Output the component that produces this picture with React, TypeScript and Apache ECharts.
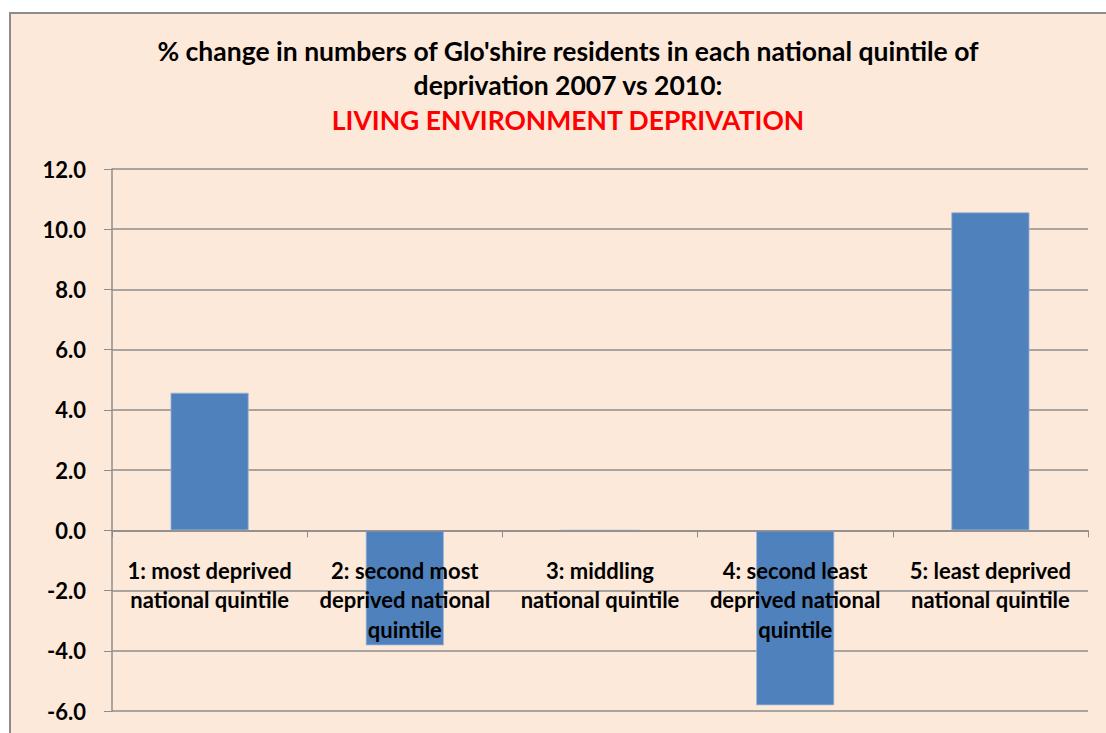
import React, { useEffect, useRef } from "react";
import * as echarts from "echarts";

const categories = [
  "1: most deprived\nnational quintile",
  "2: second most\ndeprived national\nquintile",
  "3: middling\nnational quintile",
  "4: second least\ndeprived national\nquintile",
  "5: least deprived\nnational quintile",
];
const values = [4.57, -3.82, 0, -5.81, 10.56];
const titleLines = [
  "% change in numbers of Glo'shire residents in each national quintile of",
  "deprivation 2007 vs 2010:",
];
const subtitle = "LIVING ENVIRONMENT DEPRIVATION";
const yMin = -6;
const yMax = 12;
const yStep = 2;

const FONT = "Lato, 'Open Sans', sans-serif";
const GRID_BOTTOM = 22;
const H = 733;

export default function App() {
  const ref = useRef<HTMLDivElement>(null);
  useEffect(() => {
    if (!ref.current) return;
    const chart = echarts.init(ref.current, null, { renderer: "svg" });
    const xAxisBase = {
      type: "category",
      data: categories,
      z: 5,
      axisLine: { onZero: false, lineStyle: { color: "#8c8c8c", width: 1.5 } },
      axisTick: { show: true, length: 7, inside: false, lineStyle: { color: "#8c8c8c" } },
      axisLabel: {
        interval: 0,
        margin: 25,
        fontFamily: FONT,
        fontSize: 22,
        fontWeight: "bold",
        color: "#000",
        lineHeight: 29.5,
      },
      splitLine: { show: false },
    };
    chart.setOption({
      animation: false,
      backgroundColor: "#ffffff",
      graphic: [
        {
          type: "rect",
          z: -10,
          shape: { x: 10, y: 13, width: 1200, height: 800 },
          style: { fill: "#FDE9D9", stroke: "#8c8c8c", lineWidth: 2 },
          silent: true,
        },
      ],
      title: {
        text: titleLines.join("\n") + "\n{r|" + subtitle + "}",
        left: 563,
        textAlign: "center",
        top: 28.5,
        textStyle: {
          fontFamily: FONT,
          fontSize: 26.5,
          fontWeight: "bold",
          color: "#000",
          lineHeight: 34.5,
          rich: {
            r: {
              fontFamily: FONT,
              fontSize: 26.5,
              fontWeight: "bold",
              color: "#ff0000",
              lineHeight: 34.5,
            },
          },
        },
      },
      grid: {
        left: 112,
        right: 18,
        top: 169,
        bottom: GRID_BOTTOM,
        containLabel: false,
        outerBoundsMode: "none",
      },
      xAxis: xAxisBase,
      yAxis: {
        type: "value",
        min: yMin,
        max: yMax,
        interval: yStep,
        axisLine: { show: true, lineStyle: { color: "#8c8c8c", width: 1.5 } },
        axisTick: { show: true, length: 8, lineStyle: { color: "#8c8c8c" } },
        axisLabel: {
          margin: 26,
          fontFamily: FONT,
          fontSize: 22,
          fontWeight: "bold",
          color: "#000",
          formatter: (v: number) => v.toFixed(1),
        },
        splitLine: { show: true, lineStyle: { color: "#8c8c8c", width: 1.5 } },
      },
      series: [
        {
          type: "bar",
          data: values,
          barWidth: "40%",
          itemStyle: { color: "#4F81BD", borderColor: "#9DB5D8", borderWidth: 0.8 },
          z: 1,
        },
      ],
    });
    const zeroY = chart.convertToPixel({ yAxisIndex: 0 }, 0) as number;
    const bottomY = H - GRID_BOTTOM;
    chart.setOption({ xAxis: { offset: zeroY - bottomY } });
    return () => chart.dispose();
  }, []);
  return (
    <div
      ref={ref}
      style={{ position: "fixed", left: 0, top: 0, width: 1106, height: 733 }}
    />
  );
}
